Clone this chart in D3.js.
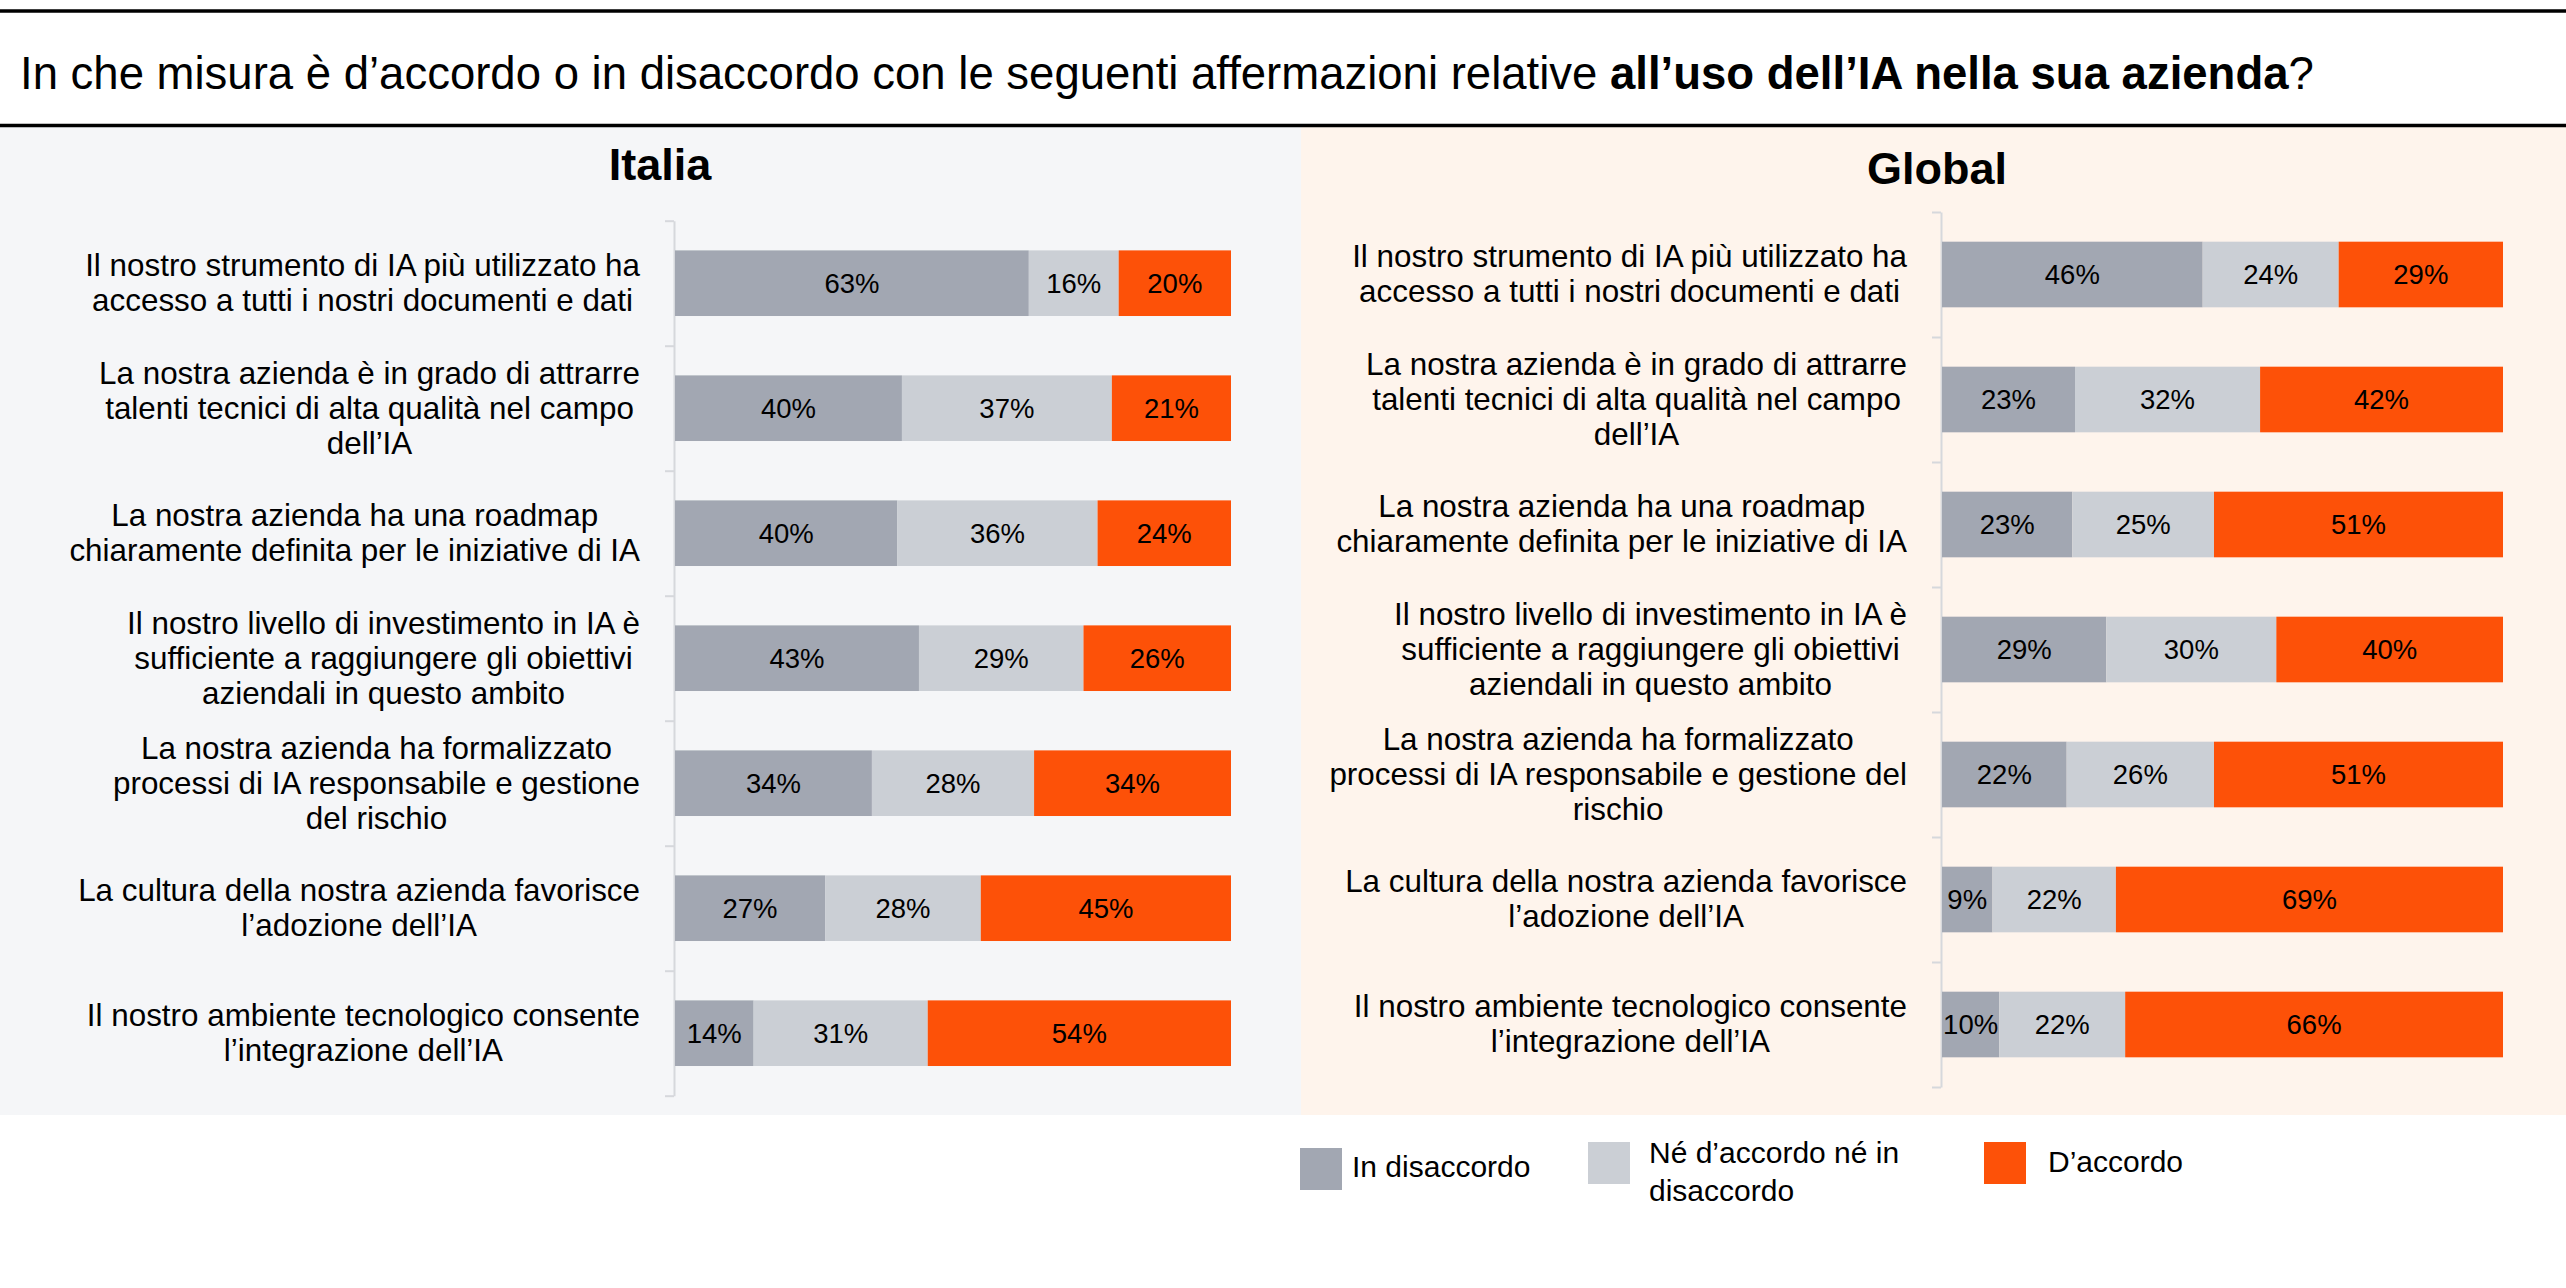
<!DOCTYPE html>
<html>
<head>
<meta charset="utf-8">
<script src="https://cdn.jsdelivr.net/npm/d3@7"></script>
<style>
  body { margin: 0; background: #fff; }
  text { font-family: "Liberation Sans", Arial, sans-serif; fill: #000; }
</style>
</head>
<body>
<div id="chart"></div>
<script>
// categories, wrapped the way the reference wraps them ("\n" = line break)
const categoriesItalia = [
  "Il nostro strumento di IA più utilizzato ha\naccesso a tutti i nostri documenti e dati",
  "La nostra azienda è in grado di attrarre\ntalenti tecnici di alta qualità nel campo\ndell’IA",
  "La nostra azienda ha una roadmap\nchiaramente definita per le iniziative di IA",
  "Il nostro livello di investimento in IA è\nsufficiente a raggiungere gli obiettivi\naziendali in questo ambito",
  "La nostra azienda ha formalizzato\nprocessi di IA responsabile e gestione\ndel rischio",
  "La cultura della nostra azienda favorisce\nl’adozione dell’IA",
  "Il nostro ambiente tecnologico consente\nl’integrazione dell’IA"
];
const categoriesGlobal = [
  "Il nostro strumento di IA più utilizzato ha\naccesso a tutti i nostri documenti e dati",
  "La nostra azienda è in grado di attrarre\ntalenti tecnici di alta qualità nel campo\ndell’IA",
  "La nostra azienda ha una roadmap\nchiaramente definita per le iniziative di IA",
  "Il nostro livello di investimento in IA è\nsufficiente a raggiungere gli obiettivi\naziendali in questo ambito",
  "La nostra azienda ha formalizzato\nprocessi di IA responsabile e gestione del\nrischio",
  "La cultura della nostra azienda favorisce\nl’adozione dell’IA",
  "Il nostro ambiente tecnologico consente\nl’integrazione dell’IA"
];

const seriesNames = ["In disaccordo", "Né d’accordo né in\ndisaccordo", "D’accordo"];
const seriesColors = ["#a2a7b2", "#cbcfd5", "#fd5108"];

const italiaDisagree = [63, 40, 40, 43, 34, 27, 14];
const italiaNeutral  = [16, 37, 36, 29, 28, 28, 31];
const italiaAgree    = [20, 21, 24, 26, 34, 45, 54];

const globalDisagree = [46, 23, 23, 29, 22, 9, 10];
const globalNeutral  = [24, 32, 25, 30, 26, 22, 22];
const globalAgree    = [29, 42, 51, 40, 51, 69, 66];

const W = 2566, H = 1288;
const svg = d3.select("#chart").append("svg")
  .attr("width", W).attr("height", H);

// panels
svg.append("rect").attr("x", 0).attr("y", 127).attr("width", 1301).attr("height", 988).attr("fill", "#f5f6f8");
svg.append("rect").attr("x", 1301).attr("y", 127).attr("width", W - 1301).attr("height", 988).attr("fill", "#fef4ec");

// header rules
svg.append("line").attr("x1", 0).attr("x2", W).attr("y1", 11).attr("y2", 11).attr("stroke", "#000").attr("stroke-width", 3.5);
svg.append("line").attr("x1", 0).attr("x2", W).attr("y1", 125.5).attr("y2", 125.5).attr("stroke", "#000").attr("stroke-width", 3.5);

// title
const title = svg.append("text").attr("x", 20).attr("y", 89).style("font-size", "45.5px");
title.append("tspan").text("In che misura è d’accordo o in disaccordo con le seguenti affermazioni relative ");
title.append("tspan").style("font-weight", "bold").text("all’uso dell’IA nella sua azienda");
title.append("tspan").text("?");

function drawPanel(opts) {
  const { name, titleX, titleY, cats, dis, neu, agr, x0, x1, y0 } = opts;
  const n = cats.length;
  const step = 125;
  const y1 = y0 + step * n;

  svg.append("text").attr("x", titleX).attr("y", titleY)
    .attr("text-anchor", "middle")
    .style("font-size", "45px").style("font-weight", "bold")
    .text(name);

  const rows = cats.map((c, i) => ({ cat: c, d: dis[i], n: neu[i], a: agr[i] }));
  const stack = d3.stack().keys(["d", "n", "a"]).offset(d3.stackOffsetExpand);
  const layers = stack(rows);

  const x = d3.scaleLinear().domain([0, 1]).range([x0, x1]);
  const y = d3.scaleBand().domain(d3.range(n)).range([y0, y1])
    .paddingInner(0.475).paddingOuter(0.2375);

  // axis with ticks between categories
  const yTicks = d3.scaleLinear().domain([0, n]).range([y0, y1]);
  const axis = svg.append("g").attr("transform", `translate(${x0 - 1},0)`)
    .call(d3.axisLeft(yTicks).tickValues(d3.range(n + 1)).tickSize(9).tickSizeOuter(0).tickFormat(""));
  axis.selectAll("path, line").attr("stroke", "#d6d8dc").attr("stroke-width", 2);

  const g = svg.append("g");
  layers.forEach((layer, k) => {
    const key = layer.key;
    g.selectAll(null).data(layer).enter().append("rect")
      .attr("x", d => x(d[0]))
      .attr("width", d => x(d[1]) - x(d[0]))
      .attr("y", (d, i) => y(i))
      .attr("height", y.bandwidth())
      .attr("fill", seriesColors[k]);
    g.selectAll(null).data(layer).enter().append("text")
      .attr("x", d => (x(d[0]) + x(d[1])) / 2)
      .attr("y", (d, i) => y(i) + y.bandwidth() / 2)
      .attr("dy", "0.35em")
      .attr("text-anchor", "middle")
      .style("font-size", "27.5px")
      .text(d => d.data[key] + "%");
  });

  // category labels: block right-aligned to the axis, lines centred in the block
  const lh = 35;
  rows.forEach((r, i) => {
    const lines = r.cat.split("\n");
    const t = svg.append("text").style("font-size", "31.4px").attr("text-anchor", "middle");
    const cy = y(i) + y.bandwidth() / 2;
    const spans = lines.map((ln, j) => t.append("tspan")
      .attr("y", cy + (j - (lines.length - 1) / 2) * lh)
      .attr("dy", "0.33em")
      .text(ln));
    const maxW = d3.max(spans, s => s.node().getComputedTextLength());
    const cx = x0 - 35 - maxW / 2;
    spans.forEach(s => s.attr("x", cx));
  });
}

drawPanel({
  name: "Italia", titleX: 660, titleY: 180,
  cats: categoriesItalia, dis: italiaDisagree, neu: italiaNeutral, agr: italiaAgree,
  x0: 675, x1: 1231, y0: 220.7
});
drawPanel({
  name: "Global", titleX: 1937, titleY: 184,
  cats: categoriesGlobal, dis: globalDisagree, neu: globalNeutral, agr: globalAgree,
  x0: 1942, x1: 2503, y0: 212
});

// legend
const legendX = [1300, 1588, 1984];
const legendY = [1148, 1142, 1142];
const leg = svg.append("g");
seriesNames.forEach((s, i) => {
  leg.append("rect").attr("x", legendX[i]).attr("y", legendY[i])
    .attr("width", 42).attr("height", 42).attr("fill", seriesColors[i]);
  const lines = s.split("\n");
  const t = leg.append("text").style("font-size", "30px");
  const base = lines.length > 1 ? 1163 : (i === 0 ? 1177 : 1172);
  lines.forEach((ln, j) => {
    t.append("tspan").attr("x", legendX[i] + (i === 0 ? 52 : (i === 1 ? 61 : 64)))
      .attr("y", base + j * 38).text(ln);
  });
});
</script>
</body>
</html>
